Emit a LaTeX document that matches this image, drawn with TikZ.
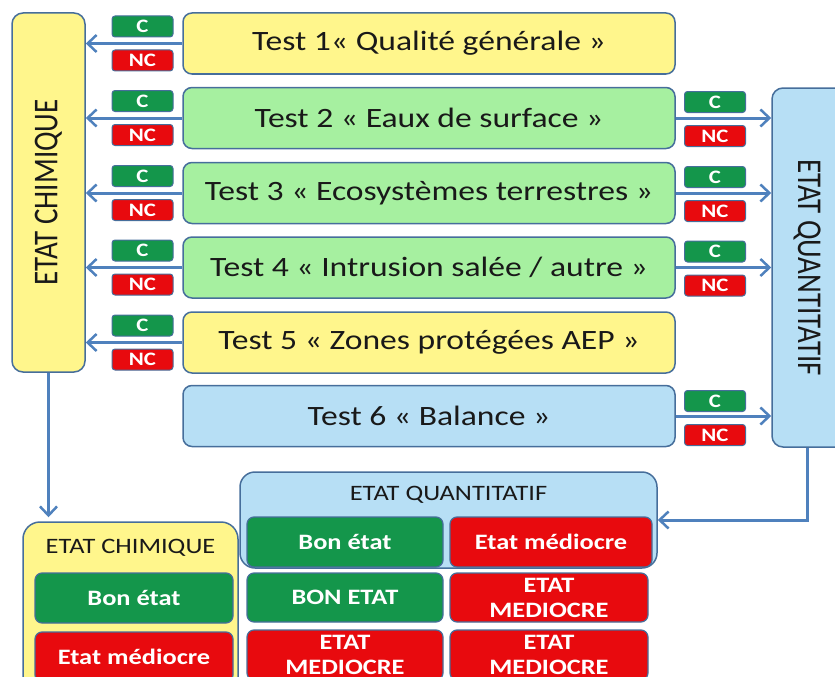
\documentclass[tikz,border=0pt]{standalone}
\usepackage{fontspec}
\usepackage{graphicx}
\setmainfont{Carlito}[FakeStretch=1.2]
\newfontfamily\vfont{Carlito}
\usetikzlibrary{arrows.meta}
\definecolor{yel}{RGB}{255,246,140}
\definecolor{lgreen}{RGB}{166,240,160}
\definecolor{lblue}{RGB}{183,223,245}
\definecolor{bord}{RGB}{70,110,155}
\definecolor{cgreen}{RGB}{20,150,75}
\definecolor{cred}{RGB}{232,10,14}
\definecolor{arrowc}{RGB}{79,129,189}
\definecolor{txt}{RGB}{25,25,25}
\begin{document}
\begin{tikzpicture}[x=1pt,y=-1pt,
  box/.style={draw=bord, line width=1.5pt, rounded corners=9pt, inner sep=0pt},
  test/.style={box, minimum width=492pt, minimum height=61pt, text=txt, font=\fontsize{28}{32}\selectfont},
  badge/.style={draw=bord, line width=1pt, rounded corners=3pt, minimum width=61pt, minimum height=21pt, inner sep=0pt, text=white, font=\bfseries\fontsize{19}{20}\selectfont},
  cbadge/.style={badge, fill=cgreen},
  ncbadge/.style={badge, fill=cred},
  state/.style={draw=bord, line width=1.2pt, rounded corners=7pt, inner sep=0pt, text=white, align=center, font=\bfseries\fontsize{22}{25}\selectfont},
  gstate/.style={state, fill=cgreen},
  rstate/.style={state, fill=cred},
  title/.style={text=txt, font=\fontsize{22}{25}\selectfont},
  vtitle/.style={text=txt, font=\vfont\fontsize{29}{32}\selectfont},
  arr/.style={draw=arrowc, line width=3pt, -{Straight Barb[length=9pt,width=17pt,line width=2.5pt]}}
]
\useasboundingbox (0,0) rectangle (835,677);
\clip (0,0) rectangle (835,677);

% left vertical box
\node[box, fill=yel, minimum width=73pt, minimum height=359pt, rounded corners=11pt] (lch) at (48.5,192.5) {};
\node[vtitle, rotate=90] (lchtext) at (48.5,192.5) {\scalebox{1}[1.2]{ETAT CHIMIQUE}};

% right vertical box
\node[box, fill=lblue, minimum width=78pt, minimum height=359pt, rounded corners=11pt] (rq) at (811,267.5) {};
\node[vtitle, rotate=-90] (rqtext) at (807,267.5) {\scalebox{1}[1.2]{ETAT QUANTITATIF}};

% tests
\node[test, fill=yel]    (t1) at (429,43.5)  {Test 1« Qualité générale »};
\node[test, fill=lgreen] (t2) at (429,118)   {Test 2 « Eaux de surface »};
\node[test, fill=lgreen] (t3) at (429,193)   {Test 3 « Ecosystèmes terrestres »};
\node[test, fill=lgreen] (t4) at (429,267.5) {Test 4 « Intrusion salée / autre »};
\node[test, fill=yel]    (t5) at (429,342.5) {Test 5 « Zones protégées AEP »};
\node[test, fill=lblue]  (t6) at (429,416)   {Test 6 « Balance »};

% left badges
\node[cbadge]  (c1) at (142.5,26.5) {C};
\node[ncbadge] (n1) at (142.5,60.5) {NC};
\node[cbadge]  (c2) at (142.5,101) {C};
\node[ncbadge] (n2) at (142.5,135) {NC};
\node[cbadge]  (c3) at (142.5,176) {C};
\node[ncbadge] (n3) at (142.5,210) {NC};
\node[cbadge]  (c4) at (142.5,250.5) {C};
\node[ncbadge] (n4) at (142.5,284.5) {NC};
\node[cbadge]  (c5) at (142.5,325.5) {C};
\node[ncbadge] (n5) at (142.5,359.5) {NC};

% right badges
\node[cbadge]  (rc2) at (715,102) {C};
\node[ncbadge] (rn2) at (715,136) {NC};
\node[cbadge]  (rc3) at (715,177) {C};
\node[ncbadge] (rn3) at (715,211) {NC};
\node[cbadge]  (rc4) at (715,251.5) {C};
\node[ncbadge] (rn4) at (715,285.5) {NC};
\node[cbadge]  (rc6) at (715,401) {C};
\node[ncbadge] (rn6) at (715,435) {NC};

% arrows to left
\foreach \t in {t1,t2,t3,t4,t5}
  \draw[arr] (\t.west) -- (\t.west -| lch.east);
% arrows to right
\foreach \t in {t2,t3,t4,t6}
  \draw[arr] (\t.east) -- (\t.east -| rq.west);

% bottom quantitative box
\node[box, fill=lblue, minimum width=417pt, minimum height=96pt, rounded corners=15pt] (bq) at (448.5,520) {};
\node[title] (bqtitle) at (448.5,495) {ETAT QUANTITATIF};

% bottom chemical box
\node[box, fill=yel, minimum width=215pt, minimum height=188pt, rounded corners=17pt] (bch) at (130.5,616) {};
\node[title] (bchtitle) at (130.5,548) {ETAT CHIMIQUE};

\node[gstate, minimum width=198pt, minimum height=50pt] (bc1) at (134,598) {Bon état};
\node[rstate, minimum width=198pt, minimum height=50pt] (bc2) at (134,657) {Etat médiocre};

\node[gstate, minimum width=196pt, minimum height=50pt] (q11) at (345,542) {Bon état};
\node[rstate, minimum width=202pt, minimum height=50pt] (q12) at (551,542) {Etat médiocre};
\node[gstate, minimum width=196pt, minimum height=49pt] (q21) at (345,597.5) {BON ETAT};
\node[rstate, minimum width=198pt, minimum height=49pt] (q22) at (549,597.5) {ETAT\\MEDIOCRE};
\node[rstate, minimum width=196pt, minimum height=50pt] (q31) at (345,655) {ETAT\\MEDIOCRE};
\node[rstate, minimum width=198pt, minimum height=50pt] (q32) at (549,655) {ETAT\\MEDIOCRE};

% connectors to results
\draw[arr, shorten >=4pt] (lch.south) -- (lch.south |- bch.north);
\draw[arr] (rqtext |- rq.south) |- (bq.east);
\end{tikzpicture}
\end{document}
